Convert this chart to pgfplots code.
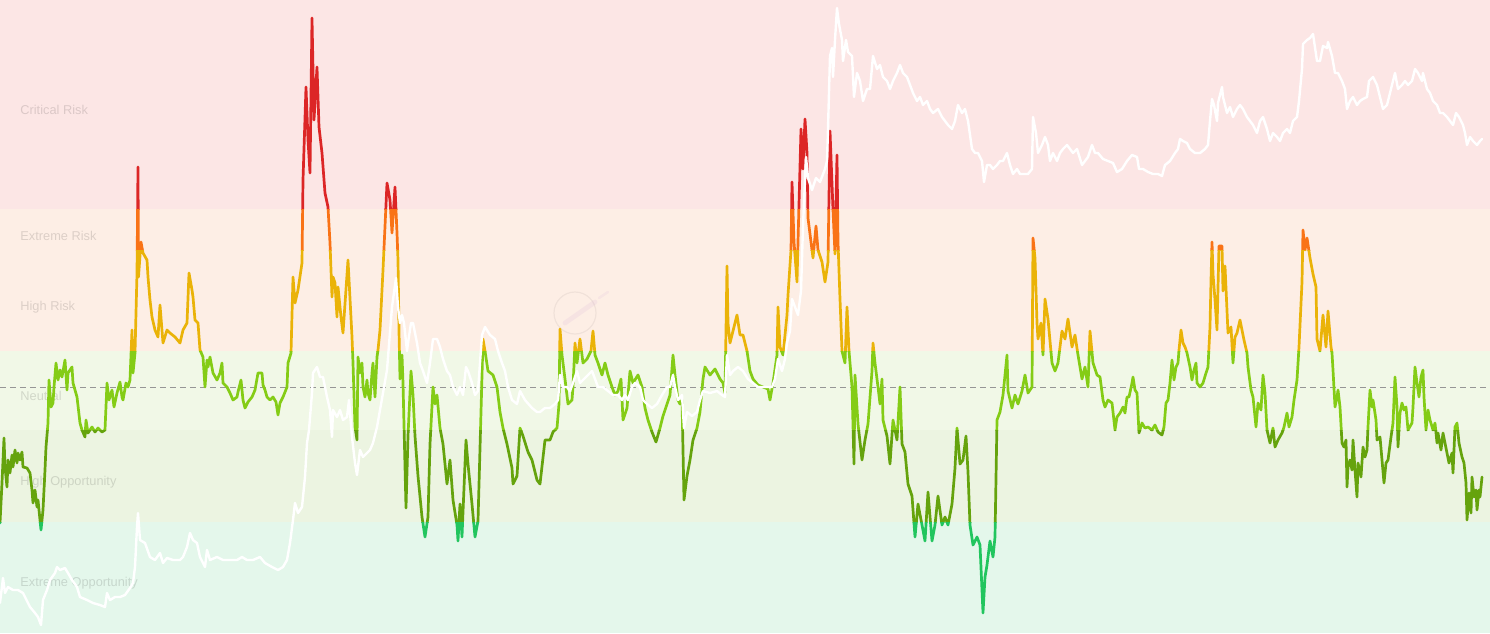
\documentclass[border=0pt]{standalone}
\usepackage{pgfplots}
\pgfplotsset{compat=1.18}
\usepackage{pgfplotstable}
\usepackage{fontspec}
\setmainfont{Liberation Sans}

\definecolor{bgcrit}{RGB}{252,230,229}
\definecolor{bgrisk}{RGB}{253,238,229}
\definecolor{bgneu}{RGB}{241,248,231}
\definecolor{bghopp}{RGB}{236,244,225}
\definecolor{bgeopp}{RGB}{228,247,235}
\definecolor{cred}{RGB}{220,38,38}
\definecolor{corange}{RGB}{249,115,22}
\definecolor{camber}{RGB}{234,179,8}
\definecolor{clime}{RGB}{132,204,22}
\definecolor{cgreen}{RGB}{101,163,13}
\definecolor{cteal}{RGB}{34,197,94}
\definecolor{dashgray}{RGB}{150,150,150}
\definecolor{wmark}{RGB}{200,150,210}

% oscillator (y in pixel units from the top)
\pgfplotstableread{
x y
0 523
2 483
4 438
5 467
7 487
8 460
10 473
12 455
13 467
15 450
17 463
18 453
20 460
22 452
23 467
27 468
30 473
32 490
33 503
35 490
37 507
38 500
40 520
41 530
43 510
45 470
46 447
48 423
49 380
51 407
53 403
54 387
56 363
58 380
60 370
62 377
65 360
67 390
68 373
72 367
73 383
77 397
80 423
82 430
85 437
86 420
88 433
92 427
95 432
98 428
102 432
105 430
107 383
109 400
112 390
114 407
117 393
120 382
122 397
123 400
126 383
128 387
130 380
132 330
133 373
135 353
137 273
138 167
138.5 277
141 242
143 253
147 260
148 277
150 300
152 317
155 330
158 337
160 305
163 343
167 330
170 333
175 337
180 343
183 330
187 323
189 273
192 290
193 297
195 320
198 323
200 350
203 357
205 387
207 360
208 367
210 357
213 373
217 380
220 373
222 363
223 383
227 387
230 393
233 400
237 397
238 392
241 380
243 400
245 408
248 402
252 397
255 390
258 373
262 373
263 385
265 390
267 397
270 400
273 397
276 402
278 415
280 403
283 397
287 387
288 363
291 353
293 277
295 303
298 290
302 263
303 180
306 87
308 140
310 173
312 18
314 120
317 67
319 127
322 153
325 193
328 207
330 243
332 297
333 277
335 283
337 317
338 287
341 317
343 333
348 260
352 337
353 363
355 427
357 440
358 357
360 373
362 363
363 387
365 397
367 380
368 393
370 400
372 373
373 363
375 397
377 357
378 350
380 330
383 270
387 183
390 200
392 233
395 187
397 233
398 260
399 331
400 379
402 355
403 383
406 508
408 436
411 371
413 395
415 436
418 476
422 517
425 537
428 517
430 444
433 387
435 404
437 395
440 428
443 444
447 484
450 460
453 500
457 525
458 541
460 504
462 537
463 512
466 440
468 464
472 504
475 537
478 521
481 412
483 339
485 351
488 371
493 375
497 387
500 412
503 428
507 444
512 468
513 484
517 476
520 428
523 436
528 452
532 460
537 480
540 484
545 440
550 440
553 432
557 428
559 404
560 329
562 355
565 379
568 404
572 400
573 387
575 343
577 363
580 339
583 363
587 359
591 351
593 331
595 355
598 363
602 375
605 363
608 375
612 387
615 395
618 391
621 379
623 420
627 408
630 371
633 383
638 375
642 387
645 408
648 420
652 432
656 442
660 428
663 416
667 404
670 395
673 355
675 375
678 400
680 404
682 400
684 500
687 476
690 460
693 440
697 428
700 412
703 379
705 367
710 375
715 369
720 379
723 383
725 393
727 266
728 323
730 343
733 331
737 315
740 335
743 335
747 351
750 371
753 379
758 385
763 387
768 389
770 400
773 383
777 355
778 307
780 347
783 355
787 315
788 295
791 250
792 182
794 242
797 282
798 242
801 129
803 169
805 119
807 153
808 218
810 234
813 258
816 226
818 250
822 262
825 282
828 262
830 131
833 210
835 254
837 155
838 242
840 299
842 351
845 363
847 307
849 351
852 387
854 464
855 375
858 424
862 460
865 440
868 424
872 371
873 343
875 363
878 387
880 404
882 379
883 420
887 436
890 464
893 420
897 440
900 387
902 444
905 452
908 484
912 496
915 537
918 504
922 525
925 541
928 492
932 541
935 525
938 496
942 525
945 517
948 525
952 504
955 468
957 428
960 464
963 460
966 436
968 472
970 525
973 545
977 537
980 545
983 613
985 577
987 565
990 541
993 557
995 537
997 420
1000 412
1003 395
1007 355
1008 391
1012 408
1015 395
1018 404
1022 391
1025 375
1028 393
1032 387
1033 238
1035 258
1037 323
1038 339
1041 323
1043 355
1045 299
1048 319
1052 363
1055 371
1058 363
1062 331
1065 339
1068 319
1072 347
1075 335
1078 355
1082 379
1085 367
1088 387
1090 331
1093 363
1097 375
1100 377
1103 400
1105 407
1108 400
1112 403
1115 430
1117 417
1120 413
1123 407
1125 413
1127 397
1129 397
1132 383
1133 377
1135 390
1137 393
1139 433
1142 423
1145 428
1148 427
1152 430
1155 425
1158 432
1162 435
1164 427
1166 403
1168 400
1170 383
1172 360
1174 380
1176 367
1178 363
1179 350
1181 330
1183 343
1185 347
1187 353
1190 367
1192 380
1194 370
1196 363
1197 383
1200 387
1203 383
1206 373
1208 367
1210 327
1211 280
1212 242
1213 274
1215 300
1217 330
1219 246
1222 246
1223 291
1225 266
1228 333
1231 327
1233 363
1235 337
1237 333
1240 320
1242 330
1244 340
1247 353
1248 367
1251 390
1253 397
1256 427
1258 403
1261 410
1263 375
1265 393
1267 430
1270 443
1273 428
1275 447
1278 440
1282 433
1284 427
1287 413
1289 427
1292 417
1294 400
1297 380
1299 347
1302 282
1303 230
1305 250
1307 238
1310 258
1313 274
1316 287
1317 339
1320 351
1323 315
1326 347
1328 311
1331 347
1332 353
1333 370
1335 407
1337 397
1338 390
1340 407
1342 443
1344 447
1346 440
1347 487
1348 467
1350 460
1352 470
1353 440
1355 470
1357 497
1358 463
1361 477
1363 447
1365 457
1367 450
1368 427
1370 390
1372 407
1373 400
1376 420
1377 440
1380 437
1382 460
1384 483
1386 463
1388 460
1391 437
1393 423
1395 377
1397 407
1398 447
1400 413
1402 403
1404 410
1406 407
1408 430
1412 423
1413 407
1415 367
1417 383
1419 397
1421 377
1423 370
1424 397
1426 430
1428 410
1430 420
1433 430
1435 423
1437 443
1438 433
1441 450
1443 433
1445 443
1447 453
1449 463
1452 453
1453 473
1455 427
1457 423
1459 443
1462 457
1464 463
1466 483
1467 520
1469 493
1471 513
1472 477
1474 497
1476 490
1477 510
1479 490
1480 497
1482 477
}\osc

% price (y in pixel units from the top)
\pgfplotstableread{
x y
0 603
3 578
5 593
8 587
13 590
18 590
23 593
30 607
35 613
38 617
41 625
43 600
47 590
50 580
55 573
57 567
60 570
65 568
68 573
72 580
77 587
80 597
87 600
93 603
100 605
105 607
107 593
110 600
115 597
120 597
125 595
130 588
133 583
135 567
137 527
138 513
140 540
145 543
150 557
155 560
160 553
163 563
167 558
173 560
180 560
183 557
187 547
190 533
193 540
197 543
200 557
205 567
207 550
210 560
217 557
223 560
230 560
237 560
242 557
247 560
253 560
260 557
265 563
272 567
278 570
283 567
287 560
290 543
293 520
295 503
298 513
302 507
305 477
307 443
309 430
312 393
313 373
317 367
320 377
323 377
325 387
327 397
330 410
332 437
333 410
337 417
340 410
343 420
347 417
349 400
352 437
355 463
357 475
360 450
363 457
367 453
370 450
373 443
377 427
380 410
383 393
387 370
392 307
396 278
398 307
400 323
402 315
404 323
407 351
408 343
411 323
413 323
417 343
420 363
423 371
427 383
430 363
433 339
437 339
440 347
443 359
447 371
450 375
453 387
457 395
460 387
463 395
466 367
468 371
472 383
475 395
478 391
482 335
485 327
490 335
495 339
498 351
502 363
505 371
508 387
512 400
517 404
520 391
525 400
532 408
537 412
540 412
545 408
550 408
555 404
558 400
560 375
563 387
567 387
570 391
573 383
577 371
580 383
584 379
588 375
592 371
595 379
598 387
603 387
608 391
613 395
618 395
622 400
625 395
628 400
632 387
635 383
640 387
643 400
647 404
652 408
657 404
662 395
667 387
670 387
673 375
675 387
678 400
682 395
684 428
687 412
692 416
697 412
700 400
703 391
710 393
717 391
722 395
725 397
727 355
730 375
733 371
738 367
743 371
748 379
753 383
758 387
763 387
768 387
772 387
775 379
778 359
782 371
785 359
787 343
790 331
792 299
795 307
798 315
801 291
803 226
806 157
808 178
812 190
816 178
820 182
825 169
827 161
828 129
830 56
832 48
833 77
835 40
837 8
839 24
842 40
843 61
846 40
848 52
852 56
854 97
857 73
860 81
863 101
867 89
870 89
873 56
877 69
880 65
883 77
887 81
890 89
893 81
897 73
900 65
903 73
907 77
910 85
913 93
917 101
920 97
923 105
927 101
930 109
933 113
938 109
942 117
945 121
948 125
952 129
955 121
958 105
962 113
965 109
968 121
972 149
975 153
978 153
982 161
984 182
987 165
990 165
993 169
997 165
1000 161
1003 161
1007 153
1010 165
1013 174
1017 169
1020 174
1025 174
1028 174
1032 169
1033 117
1036 133
1038 153
1042 145
1045 137
1048 145
1050 161
1053 153
1057 161
1060 153
1063 149
1067 145
1070 149
1073 153
1077 149
1082 165
1085 161
1088 157
1092 145
1095 153
1098 153
1103 159
1108 161
1113 163
1117 172
1122 169
1127 161
1132 155
1137 157
1139 169
1143 169
1148 172
1153 174
1158 174
1162 176
1165 165
1170 161
1175 153
1178 149
1180 139
1183 141
1187 143
1190 149
1195 153
1200 153
1205 149
1208 145
1210 121
1212 99
1214 105
1217 121
1218 103
1222 87
1223 97
1225 105
1227 113
1230 107
1233 117
1237 109
1240 105
1243 109
1247 117
1250 121
1253 125
1257 133
1260 121
1263 117
1267 129
1270 141
1273 133
1277 137
1280 141
1283 133
1287 129
1290 133
1293 121
1297 117
1299 101
1302 69
1303 44
1307 40
1310 38
1313 34
1317 61
1320 61
1323 46
1327 48
1328 42
1332 56
1335 73
1338 73
1342 81
1345 89
1347 109
1350 101
1353 97
1357 105
1360 101
1363 99
1367 97
1369 81
1373 77
1377 85
1380 97
1383 109
1387 105
1390 93
1393 81
1395 73
1398 89
1402 85
1405 81
1408 85
1412 81
1415 69
1418 73
1422 81
1423 73
1427 89
1430 93
1433 101
1437 105
1440 113
1443 113
1447 117
1450 121
1453 125
1456 113
1459 117
1463 125
1465 133
1467 145
1470 137
1473 141
1477 145
1480 141
1482 139
}\price

\begin{document}
\begin{tikzpicture}
\begin{axis}[
  width=745pt, height=316.5pt, scale only axis,
  xmin=0, xmax=1490, ymin=0, ymax=633, y dir=reverse,
  hide axis, clip=true,
  every axis plot/.append style={line join=round, line cap=round},
]
% background zones
\fill[bgcrit] (axis cs:0,0) rectangle (axis cs:1490,209);
\fill[bgrisk] (axis cs:0,209) rectangle (axis cs:1490,351);
\fill[bgneu] (axis cs:0,351) rectangle (axis cs:1490,430);
\fill[bghopp] (axis cs:0,430) rectangle (axis cs:1490,522);
\fill[bgeopp] (axis cs:0,522) rectangle (axis cs:1490,633);

% zone labels
\tikzset{zlab/.style={anchor=west, inner sep=0pt, font=\fontsize{6.4}{7}\selectfont, text=black, text opacity=0.13}}
\node[zlab] at (axis cs:20,110) {Critical Risk};
\node[zlab] at (axis cs:20,236) {Extreme Risk};
\node[zlab] at (axis cs:20,307) {High Risk};
\node[zlab] at (axis cs:20,396) {Neutral};
\node[zlab] at (axis cs:20,482) {High Opportunity};
\node[zlab] at (axis cs:20,583) {Extreme Opportunity};

% faint watermark
\draw[black, opacity=0.05, line width=0.6pt] (axis cs:575,313) circle[radius=10.5pt];
\draw[wmark, opacity=0.12, line width=2.4pt, line cap=round] (axis cs:565,323) -- (axis cs:595,302);
\draw[wmark, opacity=0.10, line width=1.2pt, line cap=round] (axis cs:599,298) -- (axis cs:608,292);

% neutral dashed line
\draw[dashgray, line width=0.5pt, dash pattern=on 3pt off 2pt] (axis cs:0,387) -- (axis cs:1490,387);

% oscillator, coloured by zone
\begin{scope}
\clip (axis cs:-20,-20) rectangle (axis cs:1510,209);
\addplot[cred, line width=1.35pt, mark=none] table {\osc};
\end{scope}
\begin{scope}
\clip (axis cs:-20,209) rectangle (axis cs:1510,250);
\addplot[corange, line width=1.35pt, mark=none] table {\osc};
\end{scope}
\begin{scope}
\clip (axis cs:-20,250) rectangle (axis cs:1510,351);
\addplot[camber, line width=1.35pt, mark=none] table {\osc};
\end{scope}
\begin{scope}
\clip (axis cs:-20,351) rectangle (axis cs:1510,430);
\addplot[clime, line width=1.35pt, mark=none] table {\osc};
\end{scope}
\begin{scope}
\clip (axis cs:-20,430) rectangle (axis cs:1510,522);
\addplot[cgreen, line width=1.35pt, mark=none] table {\osc};
\end{scope}
\begin{scope}
\clip (axis cs:-20,522) rectangle (axis cs:1510,660);
\addplot[cteal, line width=1.35pt, mark=none] table {\osc};
\end{scope}

% price
\addplot[white, line width=1.2pt, mark=none] table {\price};
\end{axis}
\end{tikzpicture}
\end{document}
